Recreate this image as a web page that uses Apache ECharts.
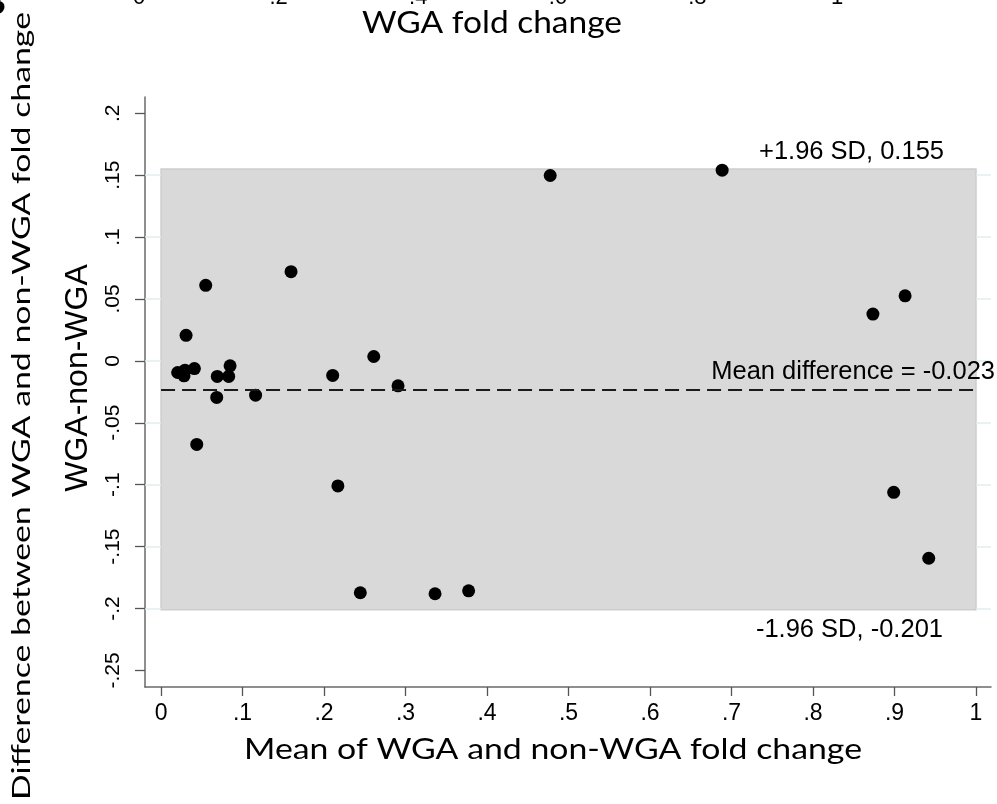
<!DOCTYPE html>
<html>
<head>
<meta charset="utf-8">
<script src="https://cdn.jsdelivr.net/npm/echarts@6/dist/echarts.min.js"></script>
<style>
html,body{margin:0;padding:0;background:#fff;}
#c{width:997px;height:804px;}
</style>
</head>
<body>
<div id="c"></div>
<script>
// ---- data ----
const meanFold = [0.0204,0.0294,0.0282,0.0409,0.0307,0.0548,0.0690,0.0830,0.0847,0.0683,0.1160,0.0438,0.1595,0.2106,0.2610,0.2908,0.2170,0.2445,0.3362,0.3774,0.4775,0.6885,0.8735,0.9130,0.8990,0.9420];
const diffFold = [-0.0094,-0.0075,-0.0121,-0.0062,0.0206,0.0610,-0.0126,-0.0126,-0.0040,-0.0295,-0.0277,-0.0675,0.0720,-0.0118,0.0035,-0.0202,-0.1010,-0.1873,-0.1881,-0.1857,0.1497,0.1540,0.0378,0.0525,-0.1062,-0.1594];
const meanDifference = -0.023;
const upperLimit = 0.155;
const lowerLimit = -0.201;
const xTicks = [0,0.1,0.2,0.3,0.4,0.5,0.6,0.7,0.8,0.9,1];
const yTicks = [-0.25,-0.2,-0.15,-0.1,-0.05,0,0.05,0.1,0.15,0.2];
const gridTicks = [-0.2,-0.15,-0.1,-0.05,0,0.05,0.1,0.15];
const xRange = [-0.0197, 1.0184];
const yRange = [-0.2634, 0.2131];
const topPanelTicks = ['0','.2','.4','.6','.8','1'];

const xTitle = 'Mean of WGA and non-WGA fold change';
const yTitle = 'WGA-non-WGA';
const outerTitle = 'Difference between WGA and non-WGA fold change';
const topTitle = 'WGA fold change';

function fmt(v){
  const r = Math.round(v*100)/100;
  if (r === 0) return '0';
  return String(r).replace(/^(-?)0\./, '$1.');
}
const ctx = document.createElement('canvas').getContext('2d');
function measure(text, font){ ctx.font = font; return ctx.measureText(text).width; }

const tickFont = '"Liberation Sans", Arial, sans-serif';
const titleFam = 'Lato, "Open Sans", sans-serif';

const chart = echarts.init(document.getElementById('c'));

const scatterData = meanFold.map((x,i)=>[x, diffFold[i]]);

// faint grid segments visible only outside the shaded band
const gridSegs = [];
gridTicks.forEach(v=>{
  gridSegs.push([{coord:[xRange[0], v]},{coord:[0, v]}]);
  gridSegs.push([{coord:[1, v]},{coord:[xRange[1], v]}]);
});

const option = {
  animation:false,
  backgroundColor:'#ffffff',
  grid:{left:145, top:97, right:6, bottom:117},
  xAxis:{
    type:'value', min:xRange[0], max:xRange[1],
    axisLine:{show:true, onZero:false, lineStyle:{color:'#6a6a6a', width:1.5}},
    axisTick:{show:true, customValues:xTicks, length:9, lineStyle:{color:'#555', width:1.3}},
    axisLabel:{customValues:xTicks, formatter:fmt, fontFamily:tickFont, fontSize:23, color:'#000', margin:15},
    splitLine:{show:false}
  },
  yAxis:{
    type:'value', min:yRange[0], max:yRange[1],
    axisLine:{show:true, onZero:false, lineStyle:{color:'#6a6a6a', width:1.5}},
    axisTick:{show:true, customValues:yTicks, length:10, lineStyle:{color:'#555', width:1.3}},
    axisLabel:{customValues:yTicks, formatter:fmt, fontFamily:tickFont, fontSize:21, color:'#000', margin:21, rotate:90},
    splitLine:{show:false}
  },
  series:[
    { // faint grid lines
      type:'scatter', data:[], z:1, silent:true,
      markLine:{silent:true, symbol:['none','none'], label:{show:false},
        lineStyle:{color:'#e3edef', width:1.5, type:'solid'},
        data: gridSegs}
    },
    { // limits of agreement band
      type:'scatter', data:[], z:2, silent:true,
      markArea:{silent:true, itemStyle:{color:'#d9d9d9', borderColor:'#cdcdcd', borderWidth:1.5},
        data:[[{coord:[0, lowerLimit]},{coord:[1, upperLimit]}]]}
    },
    { // mean difference
      type:'scatter', data:[], z:3, silent:true,
      markLine:{silent:true, symbol:['none','none'], label:{show:false},
        lineStyle:{color:'#1a1a1a', width:2, type:[14,7]},
        data:[[{coord:[0, meanDifference]},{coord:[1, meanDifference]}]]}
    },
    {
      type:'scatter', data:scatterData, z:4, symbol:'circle', symbolSize:13,
      itemStyle:{color:'#000', opacity:1}
    }
  ]
};
chart.setOption(option);

// ---- annotations & titles ----
const pUp = chart.convertToPixel({gridIndex:0}, [1, upperLimit]);
const pMean = chart.convertToPixel({gridIndex:0}, [1, meanDifference]);
const pLow = chart.convertToPixel({gridIndex:0}, [1, lowerLimit]);
const annFont = '25.5px ' + tickFont;

function txt(text, x, y, font, align, valign, extra){
  return Object.assign({type:'text', x:x, y:y, z:100, silent:true,
    style:{text:text, font:font, fill:'#000', align:align, textAlign:align,
      verticalAlign:valign, textVerticalAlign:valign}}, extra||{});
}

const fXT = '29px ' + titleFam;
const fTT = '30px ' + titleFam;
const fOT = '25px ' + titleFam;
const fYT = '32px ' + tickFont;

const graphics = [
  txt('+1.96 SD, ' + upperLimit.toFixed(3), pUp[0]-32, pUp[1]-17, annFont, 'right', 'middle'),
  txt('Mean difference = ' + meanDifference.toFixed(3), pMean[0]+19, pMean[1]-17, annFont, 'right', 'middle'),
  txt('-1.96 SD, ' + lowerLimit.toFixed(3), pLow[0]-33, pLow[1]+20, annFont, 'right', 'middle'),
  txt(xTitle, 553, 750, fXT, 'center', 'middle', {scaleX: 618/measure(xTitle, fXT)}),
  txt(topTitle, 492, 23, fTT, 'center', 'middle', {scaleX: 260/measure(topTitle, fTT)}),
  txt(outerTitle, 22, 800, fOT, 'left', 'middle', {rotation:Math.PI/2, scaleX: 788/measure(outerTitle, fOT)}),
  txt(yTitle, 78, 378, fYT, 'center', 'middle', {rotation:Math.PI/2}),
  txt('B', 6, 3, 'bold 34px ' + titleFam, 'right', 'middle')
];
topPanelTicks.forEach((t,i)=>{
  graphics.push(txt(t, 139 + i*139.6, -2.5, '22px ' + tickFont, 'center', 'middle'));
});
chart.setOption({graphic:{elements:graphics}});
</script>
</body>
</html>
